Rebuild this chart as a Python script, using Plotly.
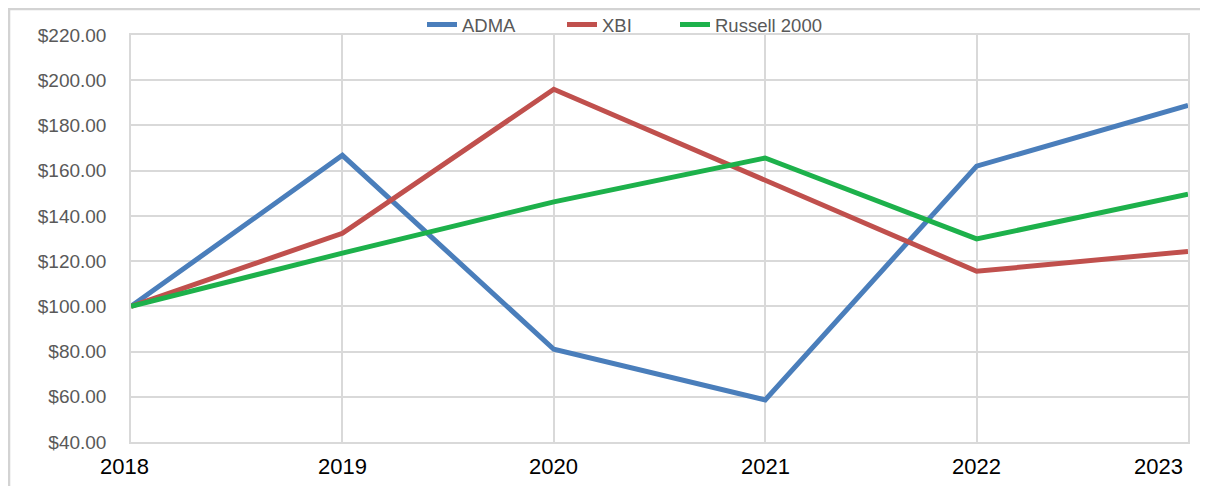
import plotly.graph_objects as go

years = [2018, 2019, 2020, 2021, 2022, 2023]
year_labels = ["2018", "2019", "2020", "2021", "2022", "2023"]
adma = [100.0, 166.8, 81.0, 58.6, 162.0, 188.9]
xbi = [100.0, 132.3, 196.0, 155.8, 115.5, 124.3]
russell = [100.0, 123.5, 146.2, 165.6, 129.8, 149.6]
y_ticks = [40, 60, 80, 100, 120, 140, 160, 180, 200, 220]
y_labels = [f"${v:.2f}" for v in y_ticks]

W, H = 1208, 486
OFF = 8  # page body margin offset

series = [("ADMA", adma, "#4A7EBB", "legend", 465),
          ("XBI", xbi, "#C0504D", "legend2", 605),
          ("Russell 2000", russell, "#1DB14B", "legend3", 718)]

fig = go.Figure()
for name, vals, col, leg, _ in series:
    fig.add_trace(go.Scatter(x=years, y=vals, name=name, mode="lines",
                             line=dict(color=col, width=5), legend=leg))

for yr, lab in zip(years, year_labels):
    shift = -7 if yr == years[0] else (-30 if yr == years[-1] else 0)
    fig.add_annotation(x=yr, y=0, yref="paper", yanchor="top", xref="x", text=lab,
                       showarrow=False, xshift=shift, yshift=-10,
                       font=dict(size=22, color="#000000", family="Liberation Sans"))

fig.add_shape(type="rect", xref="paper", yref="paper", x0=-0.1154, x1=1.03, y0=-0.14, y1=1.0639,
              line=dict(color="#D3D3D3", width=2.5), fillcolor="rgba(0,0,0,0)", layer="below")

legend_layout = {}
for name, vals, col, leg, text_x in series:
    legend_layout[leg] = dict(
        orientation="h", x=(text_x - OFF - 43) / W, xref="container", xanchor="left",
        y=1 - (25 - OFF) / H, yref="container", yanchor="middle",
        font=dict(size=18.5, color="#595959"), bgcolor="rgba(0,0,0,0)")

fig.update_layout(
    width=W, height=H,
    margin=dict(l=131 - OFF, r=W + OFF - 1188, t=35 - OFF, b=H + OFF - 442, autoexpand=False),
    paper_bgcolor="white", plot_bgcolor="white",
    font=dict(family="Liberation Sans", color="#595959"),
    showlegend=True,
    xaxis=dict(range=[2018, 2023], tickvals=years, showticklabels=False,
               showgrid=True, gridcolor="#D9D9D9", gridwidth=1.5,
               showline=True, linecolor="#D9D9D9", linewidth=1.5, mirror=True,
               zeroline=False, fixedrange=True, automargin=False),
    yaxis=dict(range=[40, 220], tickvals=y_ticks, ticktext=y_labels,
               tickfont=dict(size=19, color="#595959"), ticks="", ticklen=0,
               ticklabelstandoff=19,
               showgrid=True, gridcolor="#D9D9D9", gridwidth=1.5,
               showline=True, linecolor="#D9D9D9", linewidth=1.5, mirror=True,
               zeroline=False, fixedrange=True, automargin=False),
    **legend_layout,
)

fig.write_html("out.html")
